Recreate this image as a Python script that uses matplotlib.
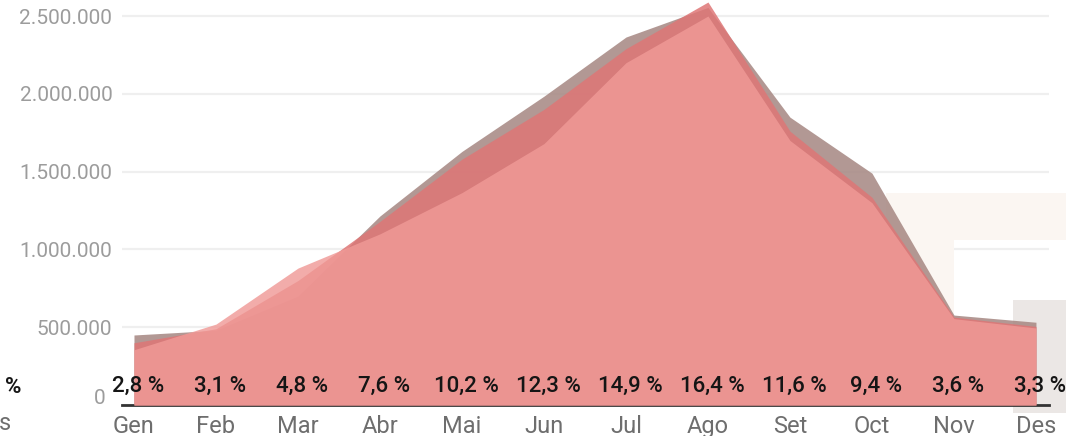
import matplotlib.pyplot as plt
import matplotlib.patches as mpatches
from matplotlib.transforms import ScaledTranslation

plt.rcParams['font.family'] = ['Roboto', 'DejaVu Sans']

months = ['Gen', 'Feb', 'Mar', 'Abr', 'Mai', 'Jun', 'Jul', 'Ago', 'Set', 'Oct', 'Nov', 'Des']
serie_a = [450000, 480000, 700000, 1215000, 1630000, 1985000, 2365000, 2555000, 1850000, 1490000, 578000, 532000]
serie_b = [400000, 490000, 800000, 1180000, 1580000, 1900000, 2290000, 2590000, 1760000, 1335000, 565000, 505000]
serie_c = [355000, 520000, 880000, 1100000, 1365000, 1680000, 2200000, 2500000, 1700000, 1300000, 555000, 495000]
pct = ['2,8 %', '3,1 %', '4,8 %', '7,6 %', '10,2 %', '12,3 %', '14,9 %', '16,4 %', '11,6 %', '9,4 %', '3,6 %', '3,3 %']
yticks = [0, 500000, 1000000, 1500000, 2000000, 2500000]
ylabels = ['0', '500.000', '1.000.000', '1.500.000', '2.000.000', '2.500.000']

W, H = 1066, 436
fig = plt.figure(figsize=(W / 100, H / 100), dpi=100)
ax = fig.add_axes([122 / W, 31 / H, 927 / W, 405 / H])
ax.patch.set_alpha(0)

x = range(len(months))
ax.fill_between(x, serie_a, color='#a88a85', alpha=0.88, lw=0, zorder=1)
ax.fill_between(x, serie_b, color='#de7676', alpha=0.85, lw=0, zorder=2)
ax.fill_between(x, serie_c, color='#f09a97', alpha=0.82, lw=0, zorder=3)

ax.set_xlim(-0.146, 11.159)
ax.set_ylim(0, 2603000)

ax.set_yticks(yticks)
ax.set_yticklabels(ylabels)
ax.set_xticks(list(x))
ax.set_xticklabels(months)
ax.tick_params(axis='y', length=0, pad=7, labelsize=15, labelcolor='#9c9c9c')
ax.tick_params(axis='x', length=0, pad=7, labelsize=17, labelcolor='#6e6e6e')
zero_lbl = ax.get_yticklabels()[0]
zero_lbl.set_transform(zero_lbl.get_transform() + ScaledTranslation(-0.07, 0.09, fig.dpi_scale_trans))

for s in ax.spines.values():
    s.set_visible(False)
ax.grid(axis='y', color='#efefef', lw=1.6)
ax.set_axisbelow(True)
ax.axhline(0, color='#333333', lw=2, zorder=0.9, clip_on=False)

for i, p in enumerate(pct):
    ax.annotate(p, (i, 0), xytext=(4, 19), textcoords='offset pixels',
                ha='center', va='center', fontsize=16, fontweight='medium',
                color='#151515', zorder=5)

# background shapes at the right edge
def rect(x0, y0, x1, y1, color):
    r = mpatches.Rectangle((x0 / W, 1 - y1 / H), (x1 - x0) / W, (y1 - y0) / H,
                           transform=fig.transFigure, color=color, lw=0,
                           zorder=0.8, clip_on=False)
    ax.add_artist(r)

rect(886, 193, 1066, 240, '#fbf6f2')
rect(886, 240, 954, 405, '#fbf6f2')
rect(1013, 300, 1066, 413, '#ebe7e5')

fig.text(13 / W, 1 - 387 / H, '%', ha='center', va='center', fontsize=16,
         fontweight='bold', color='#151515')
fig.text(5 / W, 1 - 423 / H, 's', ha='center', va='center', fontsize=17, color='#6e6e6e')

fig.savefig('out.png', dpi=100)
